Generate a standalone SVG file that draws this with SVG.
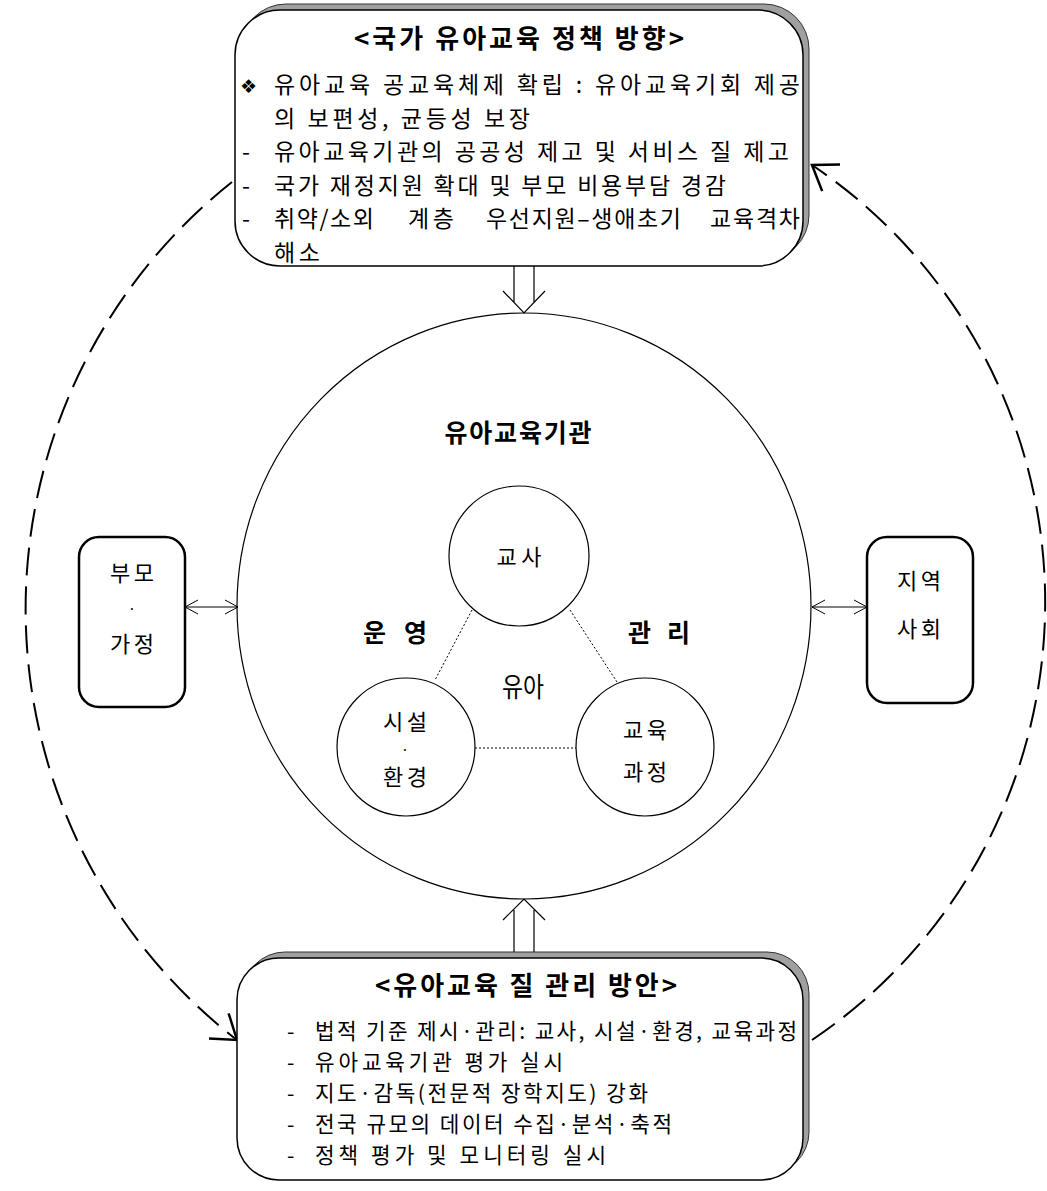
<svg xmlns="http://www.w3.org/2000/svg" width="1047" height="1191" viewBox="0 0 1047 1191">
<style>
.t { font-family: "Noto Sans CJK KR", "Noto Sans", sans-serif; fill: #000; font-size: 23px; }
.s { font-size: 22px; }
.q { font-size: 21.3px; }
.h { font-size: 26px; font-weight: bold; }
.m { font-size: 25px; font-weight: bold; }
.y { font-size: 27px; }
.dt { font-size: 14px; }
.c { text-anchor: middle; }
.shadow { fill: #a0a0a0; stroke: #333; stroke-width: 1; }
.main { fill: #fff; stroke: #000; stroke-width: 1.5; }
.side { fill: #fff; stroke: #000; stroke-width: 2.5; }
.thin { fill: none; stroke: #000; stroke-width: 1.2; }
.dot { fill: none; stroke: #000; stroke-width: 1; stroke-dasharray: 2 2; }
.dash { fill: none; stroke: #000; stroke-width: 2; stroke-dasharray: 28 11; }
</style>
<defs>
<marker id="bigHead" markerUnits="userSpaceOnUse" viewBox="-30 -20 35 40" refX="0" refY="0" markerWidth="35" markerHeight="40" orient="auto">
<path d="M-23,-16 L0,0 L-23,16" fill="none" stroke="#000" stroke-width="2.5"/>
</marker>
<marker id="smallHead" markerUnits="userSpaceOnUse" viewBox="-16 -10 18 20" refX="0" refY="0" markerWidth="18" markerHeight="20" orient="auto-start-reverse">
<path d="M-13,-7 L0,0 L-13,7" fill="none" stroke="#000" stroke-width="1"/>
</marker>
</defs>
<rect width="1047" height="1191" fill="#fff"/>

<g id="connectors">
<path class="dash" d="M232,182 A545,545 0 0 0 237,1040" marker-end="url(#bigHead)"/>
<path class="dash" d="M812,1040 A527,527 0 0 0 812,165" marker-end="url(#bigHead)"/>
<line class="thin" stroke-width="1" x1="185" y1="607" x2="238" y2="607" marker-start="url(#smallHead)" marker-end="url(#smallHead)"/>
<line class="thin" stroke-width="1" x1="812" y1="607" x2="867" y2="607" marker-start="url(#smallHead)" marker-end="url(#smallHead)"/>
<g class="thin">
<path d="M514,266 V302 M534,266 V302 M503,291 L524,313 L545,291"/>
<path d="M514,952 V910 M534,952 V910 M503,920 L524,899 L545,920"/>
</g>
</g>

<g id="policy">
<rect class="shadow" x="241" y="4" width="568" height="256" rx="45"/>
<rect class="main" x="235" y="10" width="568" height="256" rx="45"/>
<text class="t h c" x="519" y="48" textLength="330">&lt;국가 유아교육 정책 방향&gt;</text>
<text class="t" y="93"><tspan x="240" font-family="DejaVu Sans, sans-serif" font-size="19">❖</tspan><tspan x="274" textLength="526">유아교육 공교육체제 확립 : 유아교육기회 제공</tspan></text>
<text class="t" x="274" y="127" textLength="256">의 보편성, 균등성 보장</text>
<text class="t" y="160"><tspan x="242">-</tspan><tspan x="274" textLength="515">유아교육기관의 공공성 제고 및 서비스 질 제고</tspan></text>
<text class="t" y="194"><tspan x="242">-</tspan><tspan x="274" textLength="452">국가 재정지원 확대 및 부모 비용부담 경감</tspan></text>
<text class="t" y="227"><tspan x="242">-</tspan><tspan x="274" textLength="100">취약/소외</tspan><tspan x="408" textLength="46">계층</tspan><tspan x="486" textLength="195">우선지원–생애초기</tspan><tspan x="710" textLength="90">교육격차</tspan></text>
<text class="t" x="274" y="261" textLength="46">해소</text>
</g>

<g id="institution">
<ellipse class="thin" cx="524" cy="606" rx="287" ry="293"/>
<text class="t m c" x="518" y="442" textLength="147">유아교육기관</text>
<text class="t m c" x="395" y="642" textLength="64">운 영</text>
<text class="t m c" x="659" y="642" textLength="62">관 리</text>
<text class="t y c" x="523" y="697" textLength="42" lengthAdjust="spacingAndGlyphs">유아</text>
<line class="dot" x1="472" y1="610" x2="435" y2="680"/>
<line class="dot" x1="570" y1="610" x2="617" y2="682"/>
<line class="dot" x1="475" y1="748" x2="576" y2="748"/>
</g>

<g id="teacher">
<circle class="thin" cx="519" cy="556" r="70"/>
<text class="t s c" x="519" y="565" textLength="45">교사</text>
</g>

<g id="facility">
<circle class="thin" cx="406" cy="747" r="69"/>
<text class="t s c" x="405" y="730" textLength="44">시설</text>
<text class="t dt c" x="405" y="755">·</text>
<text class="t s c" x="405" y="785" textLength="44">환경</text>
</g>

<g id="curriculum">
<circle class="thin" cx="645" cy="747" r="69"/>
<text class="t s c" x="645" y="738" textLength="44">교육</text>
<text class="t s c" x="645" y="780" textLength="44">과정</text>
</g>

<g id="parents">
<rect class="side" x="79" y="537" width="106" height="170" rx="20"/>
<text class="t s c" x="132" y="581" textLength="44">부모</text>
<text class="t dt c" x="132" y="614">·</text>
<text class="t s c" x="132" y="652" textLength="44">가정</text>
</g>

<g id="community">
<rect class="side" x="867" y="537" width="106" height="166" rx="20"/>
<text class="t s c" x="919" y="589" textLength="44">지역</text>
<text class="t s c" x="919" y="637" textLength="44">사회</text>
</g>

<g id="quality">
<rect class="shadow" x="243" y="952" width="566" height="222" rx="42"/>
<rect class="main" x="237" y="958" width="566" height="222" rx="42"/>
<text class="t h c" x="526" y="995" textLength="302">&lt;유아교육 질 관리 방안&gt;</text>
<text class="t q" y="1039"><tspan x="287">-</tspan><tspan x="315" textLength="482">법적 기준 제시·관리: 교사, 시설·환경, 교육과정</tspan></text>
<text class="t q" y="1070"><tspan x="287">-</tspan><tspan x="315" textLength="248">유아교육기관 평가 실시</tspan></text>
<text class="t q" y="1101"><tspan x="287">-</tspan><tspan x="315" textLength="333">지도·감독(전문적 장학지도) 강화</tspan></text>
<text class="t q" y="1132"><tspan x="287">-</tspan><tspan x="315" textLength="357">전국 규모의 데이터 수집·분석·축적</tspan></text>
<text class="t q" y="1163"><tspan x="287">-</tspan><tspan x="315" textLength="291">정책 평가 및 모니터링 실시</tspan></text>
</g>
</svg>
